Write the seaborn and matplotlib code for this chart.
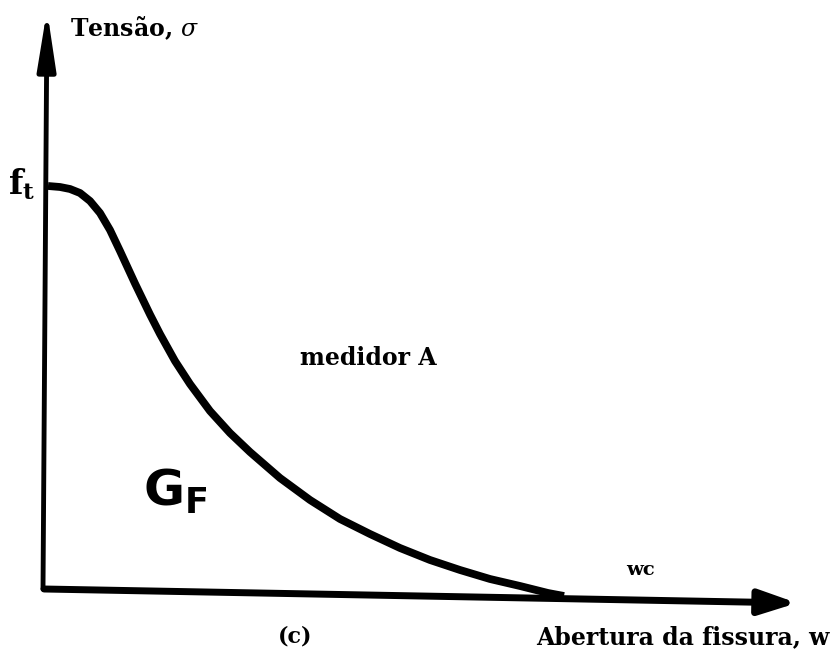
import numpy as np
import pandas as pd
import matplotlib
matplotlib.use("Agg")
import matplotlib.pyplot as plt
import seaborn as sns
from matplotlib.patches import FancyArrowPatch

# Softening curve: crack opening w vs. stress sigma (schematic units)
w_values = [0.04, 0.16, 0.26, 0.36, 0.46, 0.56, 0.66, 0.76, 0.91, 1.06,
            1.16, 1.31, 1.46, 1.66, 1.86, 2.06, 2.36, 2.66, 2.96, 3.26,
            3.56, 3.86, 4.16, 4.46, 4.76, 5.04, 5.20]
sigma_values = [4.04, 4.03, 4.01, 3.97, 3.89, 3.77, 3.60, 3.39, 3.065, 2.755,
                2.56, 2.29, 2.06, 1.79, 1.57, 1.38, 1.12, 0.90, 0.71, 0.56,
                0.42, 0.30, 0.20, 0.11, 0.04, -0.03, -0.06]

# Axis lines of the diagram
x_axis_w = [0.0, 7.53]
x_axis_sigma = [0.01, -0.13]
y_axis_w = [-0.01, 0.03]
y_axis_sigma = [0.01, 5.80]

curve = pd.DataFrame({"w": w_values, "sigma": sigma_values})

sns.set_theme(style="white")
plt.rcParams["font.family"] = ["DejaVu Serif", "DejaVu Sans"]
plt.rcParams["text.color"] = "black"

fig = plt.figure(figsize=(8.35, 6.66), dpi=100)
ax = fig.add_axes([0, 0, 1, 1])
ax.set_xlim(-0.44, 7.91)
ax.set_ylim(-0.76, 5.90)
ax.axis("off")

sns.lineplot(data=curve, x="w", y="sigma", sort=False, ax=ax,
             color="black", linewidth=5.6, solid_capstyle="butt",
             solid_joinstyle="round")

# Axes with arrowheads
ax.add_patch(FancyArrowPatch((y_axis_w[0], y_axis_sigma[0]), (y_axis_w[1], y_axis_sigma[1]),
                             arrowstyle="-|>,head_length=14,head_width=2.2",
                             mutation_scale=2.5, linewidth=3.5, color="black",
                             shrinkA=0, shrinkB=0))
ax.add_patch(FancyArrowPatch((x_axis_w[0], x_axis_sigma[0]), (x_axis_w[1], x_axis_sigma[1]),
                             arrowstyle="-|>,head_length=9,head_width=3",
                             mutation_scale=2.5, linewidth=5.0, color="black",
                             shrinkA=0, shrinkB=0))

ax.text(0.26, 5.62, r"Tensão, $\sigma$", ha="left", va="center", color="black",
        fontsize=17, fontweight="bold", math_fontfamily="dejavuserif")
ax.text(-0.22, 4.06, r"$\mathbf{f}_{\mathbf{t}}$", ha="center", va="center", color="black",
        fontsize=24, math_fontfamily="dejavuserif")
ax.text(2.56, 2.32, "medidor A", ha="left", va="center", color="black",
        fontsize=17, fontweight="bold")
ax.text(0.99, 0.98, r"$\mathbf{G}_{\mathbf{F}}$", ha="left", va="center", color="black",
        fontsize=36, math_fontfamily="dejavusans")
ax.text(5.96, 0.20, "wc", ha="center", va="center", color="black",
        fontsize=14, fontweight="bold")
ax.text(2.51, -0.47, "(c)", ha="center", va="center", color="black",
        fontsize=16, fontweight="bold")
ax.text(7.86, -0.47, "Abertura da fissura, w", ha="right", va="center", color="black",
        fontsize=17, fontweight="bold")

fig.savefig("out.png", dpi=100, facecolor="white")
